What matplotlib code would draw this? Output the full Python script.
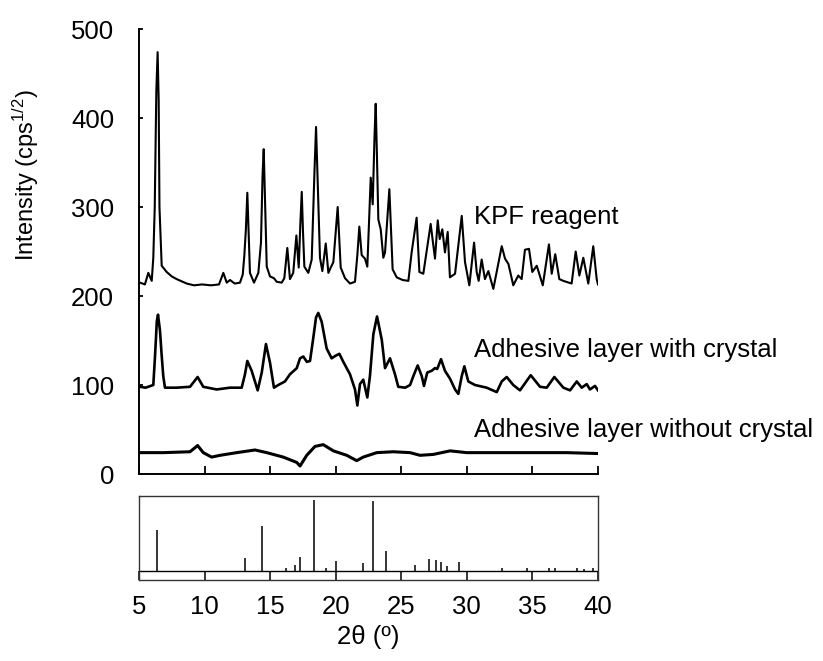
import numpy as np
import matplotlib
matplotlib.use("Agg")
import matplotlib.pyplot as plt

plt.rcParams['font.family'] = ['Liberation Sans', 'DejaVu Sans']
plt.rcParams['mathtext.fontset'] = 'custom'
plt.rcParams['mathtext.rm'] = 'Liberation Sans'
plt.rcParams['mathtext.it'] = 'Liberation Sans'
plt.rcParams['mathtext.default'] = 'regular'

# KPF reagent pattern (2theta, intensity)
kpf_x = [5.08, 5.45, 5.71, 5.97, 6.09, 6.20, 6.32, 6.42, 6.50, 6.56, 6.73, 7.11, 7.50, 7.87,
         8.64, 9.2, 9.8, 10.5, 11.1, 11.43, 11.69, 11.94, 12.3, 12.70, 12.91, 13.03, 13.15,
         13.26, 13.36, 13.46, 13.77, 14.10, 14.30, 14.42, 14.51, 14.62, 14.74, 14.99, 15.29,
         15.50, 15.88, 16.08, 16.31, 16.51, 16.76, 17.00, 17.18, 17.30, 17.41, 17.51, 17.61,
         17.91, 18.17, 18.38, 18.50, 18.62, 18.80, 18.98, 19.24, 19.44, 19.62, 19.82, 20.15,
         20.38, 20.71, 21.09, 21.47, 21.65, 21.80, 21.98, 22.23, 22.41, 22.67, 22.82, 22.96,
         23.05, 23.14, 23.25, 23.43, 23.63, 23.76, 24.09, 24.34, 24.65, 25.1, 25.54, 25.79,
         26.17, 26.38, 26.68, 27.24, 27.57, 27.78, 27.93, 28.13, 28.33, 28.54, 28.71, 29.10,
         29.61, 29.86, 30.19, 30.55, 30.75, 30.90, 31.13, 31.38, 31.64, 32.02, 32.66, 32.91,
         33.17, 33.54, 33.92, 34.18, 34.43, 34.74, 34.99, 35.33, 35.79, 36.26, 36.47, 36.74,
         37.05, 37.36, 37.99, 38.30, 38.58, 38.88, 39.26, 39.64, 39.90, 40.0]
kpf_y = [215, 213, 226, 217, 243, 300, 430, 474, 420, 300, 234, 227, 222, 219,
         214, 212, 213, 212, 213, 226, 215, 218, 214, 215, 224, 245, 275,
         316, 270, 226, 215, 226, 260, 335, 365, 300, 233, 222, 220,
         216, 215, 220, 254, 219, 226, 268, 232, 280, 317, 270, 233,
         226, 241, 340, 390, 330, 243, 228, 259, 226, 232, 238, 300,
         232, 220, 214, 216, 246, 278, 246, 242, 233, 333, 303, 380,
         416, 360, 286, 275, 243, 249, 320, 230, 221, 218, 217, 249,
         288, 227, 225, 281, 242, 285, 264, 275, 249, 272, 221, 225,
         290, 238, 212, 260, 227, 217, 241, 219, 228, 208, 256, 242,
         236, 212, 223, 219, 252, 253, 227, 234, 212, 258, 225, 247,
         219, 217, 214, 250, 223, 243, 214, 256, 219, 213]

# adhesive layer with crystal
crys_x = [5.08, 5.5, 6.09, 6.22, 6.36, 6.45, 6.60, 6.72, 6.85, 6.98, 7.87, 8.89, 9.47, 9.90,
          10.92, 11.94, 12.83, 13.08, 13.26, 13.59, 14.05, 14.36, 14.68, 14.99, 15.29, 15.62,
          16.13, 16.51, 17.03, 17.28, 17.53, 17.80, 18.04, 18.29, 18.50, 18.67, 18.93, 19.31,
          19.69, 20.0, 20.28, 20.58, 21.09, 21.47, 21.65, 21.85, 22.10, 22.41, 22.61, 22.87,
          23.15, 23.51, 23.76, 24.14, 24.52, 24.77, 25.3, 25.67, 25.92, 26.25, 26.56, 26.73,
          26.98, 27.32, 27.57, 27.74, 28.03, 28.33, 28.72, 29.10, 29.35, 29.61, 29.81, 30.11,
          30.62, 31.51, 32.28, 32.66, 33.04, 33.54, 34.05, 34.87, 35.58, 36.09, 36.67, 37.36,
          37.87, 38.38, 38.76, 39.14, 39.39, 39.77, 40.0]
crys_y = [98, 97, 100, 132, 172, 179, 161, 135, 110, 97, 97, 98, 109, 98,
          95, 97, 97, 112, 127, 116, 94, 114, 146, 125, 97, 100,
          104, 112, 119, 130, 132, 126, 127, 153, 176, 181, 171, 141,
          130, 133, 135, 126, 112, 95, 77, 101, 106, 86, 110, 157,
          177, 151, 119, 130, 112, 98, 97, 100, 110, 122, 110, 99,
          114, 116, 119, 118, 129, 116, 107, 95, 90, 110, 121, 104,
          100, 97, 92, 104, 109, 100, 94, 111, 98, 97, 109, 97,
          94, 104, 97, 101, 95, 99, 94]

# adhesive layer without crystal
nocrys_x = [5.08, 6.85, 8.89, 9.47, 9.90, 10.54, 11.18, 12.45, 13.85, 14.74, 16.0, 17.03,
            17.28, 17.79, 18.42, 19.05, 19.82, 20.84, 21.60, 22.10, 23.13, 24.39, 25.67,
            26.43, 27.44, 28.72, 29.99, 32.53, 35.07, 37.62, 40.0]
nocrys_y = [24, 24, 25, 32, 24, 19, 21, 24, 27, 24, 19, 13,
            9, 21, 31, 33, 26, 21, 15, 19, 24, 25, 24,
            21, 22, 26, 24, 24, 24, 24, 23]

# reference stick pattern (relative intensity)
stick_x = [6.40, 13.11, 14.36, 16.21, 16.90, 17.31, 18.32, 19.24, 20.05, 22.05, 22.82, 23.86,
           26.05, 27.14, 27.68, 28.04, 28.49, 29.43, 32.71, 34.62, 36.30, 36.71, 38.41, 38.92,
           39.61]
stick_h = [0.57, 0.18, 0.63, 0.04, 0.08, 0.20, 1.0, 0.04, 0.14, 0.11, 0.98, 0.28,
           0.08, 0.17, 0.16, 0.12, 0.065, 0.125, 0.04, 0.04, 0.04, 0.04, 0.04, 0.03,
           0.04]

labels = ['KPF reagent', 'Adhesive layer with crystal', 'Adhesive layer without crystal']
label_y = [280.6, 131.8, 41.6]
xticks = [5, 10, 15, 20, 25, 30, 35, 40]
yticks = [0, 100, 200, 300, 400, 500]

fig = plt.figure(figsize=(8.23, 6.61), dpi=100)
ax = fig.add_axes([0.1689, 0.2829, 0.5577, 0.6732])
ax2 = fig.add_axes([0.1689, 0.1225, 0.5577, 0.1271])

ax.plot(kpf_x, kpf_y, c='black', lw=1.5)
ax.plot(crys_x, crys_y, c='black', lw=1.9)
ax.plot(nocrys_x, nocrys_y, c='black', lw=2.2)
for lab, ly in zip(labels, label_y):
    ax.text(30.55, ly, lab, fontsize=18.5, va='baseline', ha='left')

ax.set_xlim(5, 40)
ax.set_ylim(0, 500)
ax.set_xticks(xticks)
ax.set_yticks(yticks)
ax.set_xticklabels([])
ax.spines['top'].set_visible(False)
ax.spines['right'].set_visible(False)
for s in ['left', 'bottom']:
    ax.spines[s].set_linewidth(1.4)
ax.tick_params(axis='x', direction='in', length=6, width=1.3)
ax.tick_params(axis='y', direction='in', length=3, width=1.3, labelsize=18.5, pad=18)
ax.set_ylabel(r'Intensity (cps$^{1/2}$)', fontsize=17)
ax.yaxis.set_label_coords(-0.2135, 0.672)

ax2.vlines(stick_x, 0, stick_h, colors='black', lw=1.1)
ax2.axhline(0, color='black', lw=1.0)
ax2.set_xlim(5, 40)
ax2.set_ylim(-0.126, 1.049)
ax2.set_xticks(xticks)
ax2.set_yticks([])
for s in ax2.spines.values():
    s.set_linewidth(1.0)
    s.set_color('#333333')
ax2.tick_params(axis='x', direction='in', length=6.5, width=1.1, labelsize=18.5, pad=11)

fig.text(368.5 / 823, 1 - 637 / 661, '2θ (º)', fontsize=18.5, ha='center', va='center')

fig.savefig('out.png', dpi=100)
